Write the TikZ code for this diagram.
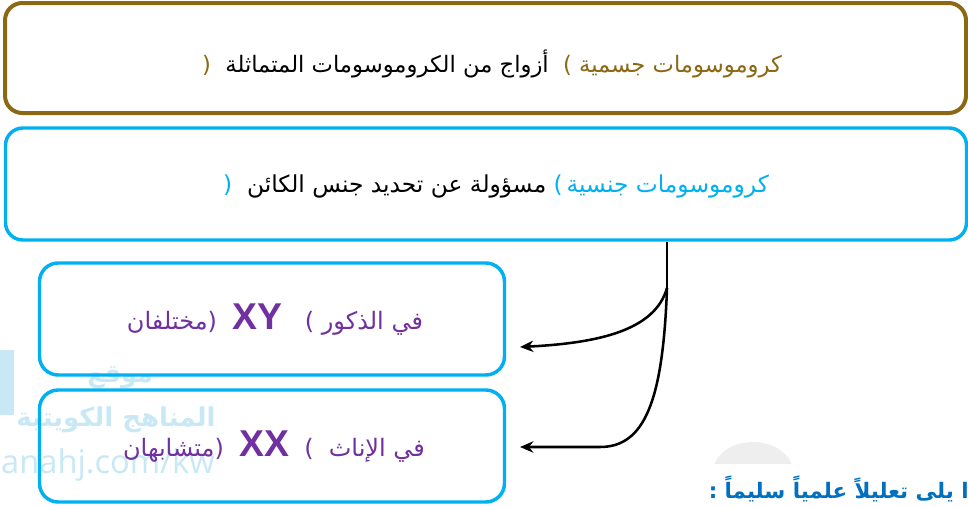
\documentclass[tikz,border=0pt]{standalone}
\usepackage{fontspec}
\setmainfont{Liberation Sans}
\newfontfamily\arabicfont[Script=Arabic]{DejaVu Sans}
\newfontfamily\wmfont{Open Sans}
\newfontfamily\latbold[BoldFont={Liberation Sans Bold}]{Liberation Sans}
\TeXXeTstate=1
\usetikzlibrary{arrows.meta}
\definecolor{brn}{RGB}{139,105,20}
\definecolor{cyn}{RGB}{0,176,240}
\definecolor{pur}{RGB}{112,48,160}
\definecolor{blu}{RGB}{0,112,192}
\definecolor{wmc}{RGB}{200,232,246}
\definecolor{blobc}{RGB}{238,238,238}
\newcommand\RR[1]{\beginR #1\endR}
\newcommand\bigXY[1]{{\latbold\bfseries\fontsize{28}{30}\selectfont #1}}
\tikzset{
  bigbox/.style={draw=#1, rounded corners=13pt, inner sep=0pt, minimum width={961*0.75pt}},
  smallbox/.style={draw=cyn, line width=2.6pt, rounded corners=14pt, inner sep=0pt,
     minimum width={465*0.75pt}, minimum height={112*0.75pt}},
  txt/.style={inner sep=0pt, font=\arabicfont\fontsize{18}{20}\selectfont},
  conn/.style={line width=1.9pt, black},
  arr/.style={conn, -{Stealth[length=10pt,width=8.5pt]}},
  wmtext/.style={text=wmc, inner sep=0pt},
}
\begin{document}
\begin{tikzpicture}[x=0.75pt,y=-0.75pt]
\useasboundingbox (0,0) rectangle (968,507);
% watermark
\fill[wmc] (0,350) rectangle (14,415);
\node[wmtext, font=\arabicfont\bfseries\fontsize{19}{21}\selectfont] (wm1) at (120,378) {\RR{موقع}};
\node[wmtext, font=\arabicfont\bfseries\fontsize{19.5}{21}\selectfont] (wm2) at (116,420) {\RR{المناهج الكويتية}};
\node[wmtext, font=\wmfont\fontsize{24.5}{26}\selectfont] (wm3) at (108,465) {anahj.com/kw};
% faint blob
\begin{scope}
\clip (700,440) rectangle (800,463);
\fill[blobc] (753,472) ellipse [x radius=40, y radius=30];
\end{scope}
% boxes
\node[bigbox=brn, line width=3pt, minimum height={110*0.75pt}] (b1) at (485.5,58) {};
\node[txt, font=\arabicfont\fontsize{17}{20}\selectfont] (l1) at (492,64)
  {{\color{brn}(}\ \ \RR{أزواج من الكروموسومات المتماثلة}\ \ {\color{brn})\ \RR{كروموسومات جسمية}}};
\node[bigbox=cyn, line width=2.6pt, minimum height={112*0.75pt}] (b2) at (486,184) {};
\node[txt, font=\arabicfont\fontsize{17.5}{20}\selectfont] (l2) at (496,186)
  {{\color{cyn}(}\ \ \RR{مسؤولة عن تحديد جنس الكائن}\ {\color{cyn})\,\RR{كروموسومات جنسية}}};
\node[smallbox] (b3) at (272,319) {};
\node[txt, text=pur] (l3) at (275,320)
  {\RR{مختلفان}(\ \ \bigXY{XY}\ \ \ )\ \RR{في الذكور}};
\node[smallbox] (b4) at (272,446) {};
\node[txt, text=pur] (l4) at (274,447)
  {\RR{متشابهان}(\ \ \bigXY{XX}\ \ )\ \ \RR{في الإناث}};
% connectors
\coordinate (j) at (667,288);
\coordinate (s) at (b2.south -| j);
\coordinate (t1) at (520,347);
\coordinate (t2) at (520,447);
\draw[conn] (s) -- (j);
\draw[arr] (j) .. controls (655,330) and (600,343) .. (t1);
\draw[arr] (j) .. controls (663,400) and (645,447) .. (600,447) -- (t2);
% bottom text
\node[anchor=east, inner sep=0pt, text=blu, font=\arabicfont\bfseries\fontsize{16}{19}\selectfont] (q) at (969,489)
  {\RR{ا يلى تعليلاً علمياً سليماً :}};
\end{tikzpicture}
\end{document}
